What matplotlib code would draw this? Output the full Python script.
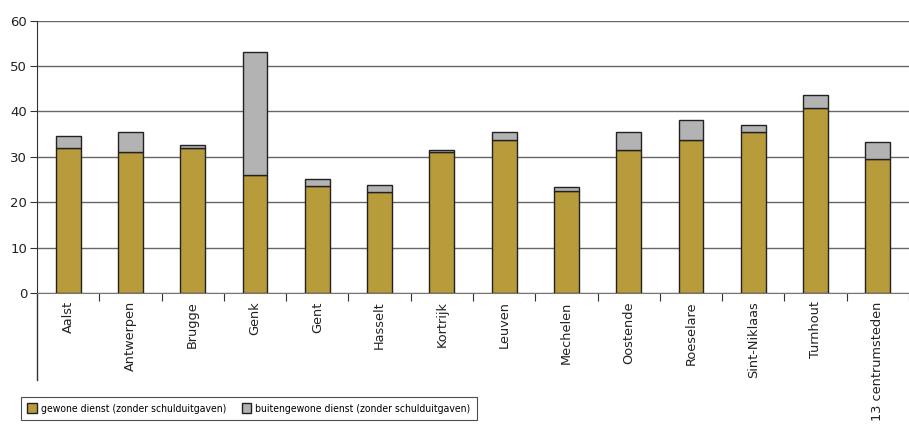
import matplotlib
matplotlib.use("Agg")
import matplotlib.pyplot as plt
import numpy as np

steden = ["Aalst", "Antwerpen", "Brugge", "Genk", "Gent", "Hasselt", "Kortrijk",
          "Leuven", "Mechelen", "Oostende", "Roeselare", "Sint-Niklaas", "Turnhout",
          "13 centrumsteden"]
gewone = [31.9, 31.1, 31.9, 26.0, 23.5, 22.2, 31.0, 33.7, 22.4, 31.5, 33.7, 35.4, 40.7, 29.6]
totaal = [34.5, 35.5, 32.7, 53.0, 25.1, 23.8, 31.5, 35.4, 23.3, 35.4, 38.1, 37.0, 43.7, 33.3]
buitengewone = [t - g for t, g in zip(totaal, gewone)]

GOLD = "#b89b3a"
GREY = "#b3b3b3"

plt.rcParams["font.family"] = ["DejaVu Sans"]

fig = plt.figure(figsize=(9.09, 4.25), dpi=100)
ax = fig.add_axes([37 / 909, 1 - 293 / 425, 1 - 37 / 909, (293 - 20.7) / 425])

x = np.arange(len(steden))
ax.bar(x, gewone, width=0.4, color=GOLD, edgecolor="#222222", linewidth=1,
       label="gewone dienst (zonder schulduitgaven)", zorder=3)
ax.bar(x, buitengewone, bottom=gewone, width=0.4, color=GREY, edgecolor="#222222",
       linewidth=1, label="buitengewone dienst (zonder schulduitgaven)", zorder=3)

ax.set_xlim(-0.5, len(steden) - 0.5)
ax.set_ylim(0, 60)
ax.set_yticks(range(0, 61, 10))
ax.yaxis.grid(True, color="#666666", linewidth=1)
ax.set_axisbelow(True)

for s in ["top", "right"]:
    ax.spines[s].set_visible(False)
ax.spines["bottom"].set_color("#777777")
ax.spines["left"].set_color("#333333")

# category names sit under the axis, ticks go between the bars
ax.set_xticks(x + 0.5)
ax.set_xticklabels([])
ax.tick_params(axis="x", length=6, color="#333333")
ax.tick_params(axis="y", length=5, color="#333333", labelsize=9.5, labelcolor="#222222", pad=2)
for i, naam in enumerate(steden):
    ax.text(i, -0.03, naam, transform=ax.get_xaxis_transform(), rotation=90,
            ha="center", va="top", fontsize=9.3, color="#222222")

# left axis line runs on below the labels
ax.plot([0, 0], [0, -0.32], transform=ax.transAxes, color="#333333",
        linewidth=1, clip_on=False)

leg = fig.legend(loc="upper left", bbox_to_anchor=(21 / 909, 1 - 397 / 425), ncol=2,
                 frameon=True, fancybox=False, edgecolor="#222222",
                 prop={"family": "DejaVu Sans", "stretch": "condensed", "size": 7.5},
                 handlelength=0.9, handleheight=1.1, handletextpad=0.4,
                 columnspacing=1.5, borderpad=0.6, borderaxespad=0)
leg.get_frame().set_linewidth(0.8)

fig.savefig("out.png", dpi=100)
